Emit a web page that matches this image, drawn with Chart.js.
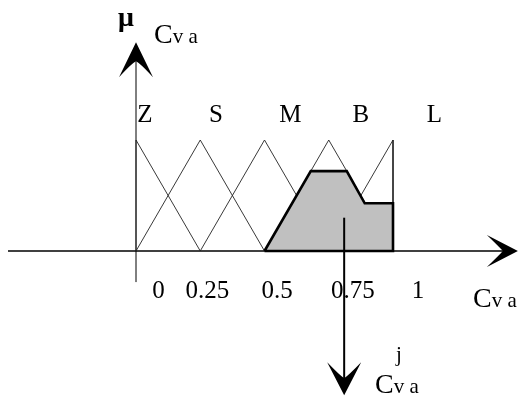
<!DOCTYPE html>
<html><head><meta charset="utf-8">
<script src="https://cdn.jsdelivr.net/npm/chart.js@4/dist/chart.umd.min.js"></script>
<style>html,body{margin:0;padding:0;background:#fff;overflow:hidden}canvas{display:block}</style>
</head><body>
<canvas id="c" width="521" height="401" style="width:521px;height:401px"></canvas>
<script>
// ---- data ----
const setNames = ['Z', 'S', 'M', 'B', 'L'];
const setPeaks = [0, 0.25, 0.5, 0.75, 1];
const setWidth = 0.25;
const tickLabels = ['0', '0.25', '0.5', '0.75', '1'];
const aggX = [0.5, 0.68, 0.82, 0.89, 1, 1];
const aggY = [0, 0.72, 0.72, 0.43, 0.43, 0];
const crispValue = 0.81;

// ---- layout (positions of annotations, in data units) ----
const setLabelX = [0.035, 0.311, 0.601, 0.875, 1.161];
const setLabelY = 1.162;
const tickLabelX = [0.0875, 0.278, 0.549, 0.844, 1.097];
const tickLabelY = -0.423;
const xAxisFrom = -0.498, xAxisTo = 1.486;
const yAxisFrom = -0.28, yAxisTo = 1.88;
const crispFrom = 0.30, crispTo = -1.30;

const FONT = '"Liberation Serif","Times New Roman",serif';

const triangles = setPeaks.map(p => [
  {x: Math.max(0, p - setWidth), y: 0},
  {x: p, y: 1},
  {x: Math.min(1, p + setWidth), y: 0}
]);

const aggPts = aggX.map((x, i) => ({x, y: aggY[i]}));
const datasets = [];
// filled area (monotonic in x)
datasets.push({
  data: aggPts, borderWidth: 0, borderColor: 'rgba(0,0,0,0)', backgroundColor: '#c0c0c0',
  fill: 'origin', pointRadius: 0, tension: 0, order: 1
});
// closed outline
datasets.push({
  data: aggPts.concat([aggPts[0]]), borderColor: '#000', borderWidth: 2.6,
  fill: false, pointRadius: 0, tension: 0, order: 0, borderJoinStyle: 'miter'
});
triangles.forEach(t => datasets.push({
  data: t, borderColor: '#222', borderWidth: 0.9, pointRadius: 0,
  fill: false, tension: 0, order: 2
}));

function arrow(ctx, tx, ty, dx, dy, len, hw, notch) {
  const px = -dy, py = dx;
  const bx = tx - dx * len, by = ty - dy * len;
  const nx = tx - dx * notch, ny = ty - dy * notch;
  ctx.beginPath();
  ctx.moveTo(tx, ty);
  ctx.lineTo(bx + px * hw, by + py * hw);
  ctx.quadraticCurveTo(tx - dx * (len * 0.6) + px * hw * 0.25, ty - dy * (len * 0.6) + py * hw * 0.25, nx, ny);
  ctx.quadraticCurveTo(tx - dx * (len * 0.6) - px * hw * 0.25, ty - dy * (len * 0.6) - py * hw * 0.25, bx - px * hw, by - py * hw);
  ctx.closePath();
  ctx.fillStyle = '#000';
  ctx.fill();
}

function cva(ctx, x, y) {
  ctx.textAlign = 'left';
  ctx.textBaseline = 'alphabetic';
  ctx.font = '28px ' + FONT;
  ctx.fillText('C', x, y);
  const w = ctx.measureText('C').width;
  ctx.font = '21px ' + FONT;
  ctx.fillText('v a', x + w, y);
}

const deco = {
  id: 'deco',
  beforeDatasetsDraw(chart) {
    const {ctx, scales: {x, y}} = chart;
    ctx.save();
    ctx.strokeStyle = '#000';
    ctx.lineWidth = 1.3;
    ctx.beginPath();
    ctx.moveTo(x.getPixelForValue(xAxisFrom), y.getPixelForValue(0));
    ctx.lineTo(x.getPixelForValue(xAxisTo) - 10, y.getPixelForValue(0));
    ctx.stroke();
    ctx.lineWidth = 1;
    ctx.beginPath();
    ctx.moveTo(x.getPixelForValue(0), y.getPixelForValue(yAxisFrom));
    ctx.lineTo(x.getPixelForValue(0), y.getPixelForValue(yAxisTo) + 10);
    ctx.stroke();
    ctx.restore();
  },
  afterDatasetsDraw(chart) {
    const {ctx, scales: {x, y}} = chart;
    ctx.save();
    const cx = x.getPixelForValue(crispValue);
    ctx.strokeStyle = '#000';
    ctx.lineWidth = 2;
    ctx.beginPath();
    ctx.moveTo(cx, y.getPixelForValue(crispFrom));
    ctx.lineTo(cx, y.getPixelForValue(crispTo) - 10);
    ctx.stroke();
    arrow(ctx, x.getPixelForValue(xAxisTo), y.getPixelForValue(0), 1, 0, 31, 16, 15);
    arrow(ctx, x.getPixelForValue(0), y.getPixelForValue(yAxisTo), 0, -1, 35, 17, 19);
    arrow(ctx, cx, y.getPixelForValue(crispTo), 0, 1, 33, 17, 17);
    ctx.fillStyle = '#000';
    ctx.textAlign = 'center';
    ctx.textBaseline = 'alphabetic';
    ctx.font = '25px ' + FONT;
    setNames.forEach((n, i) => ctx.fillText(n, x.getPixelForValue(setLabelX[i]), y.getPixelForValue(setLabelY)));
    tickLabels.forEach((t, i) => ctx.fillText(t, x.getPixelForValue(tickLabelX[i]), y.getPixelForValue(tickLabelY)));
    ctx.textAlign = 'left';
    ctx.font = 'bold 28px ' + FONT;
    ctx.fillText('μ', 118, 26);
    cva(ctx, 154, 43);
    cva(ctx, 473, 307);
    cva(ctx, 375, 393);
    ctx.font = '21px ' + FONT;
    ctx.textAlign = 'center';
    ctx.fillText('j', 399, 361);
    ctx.restore();
  }
};

new Chart(document.getElementById('c'), {
  type: 'line',
  data: {datasets},
  options: {
    responsive: false, animation: false, devicePixelRatio: 1,
    layout: {padding: 0},
    plugins: {legend: {display: false}, tooltip: {enabled: false}},
    scales: {
      x: {type: 'linear', display: false, min: -136 / 257, max: (521 - 136) / 257},
      y: {type: 'linear', display: false, min: -(401 - 251) / 111, max: 1 + 140 / 111}
    }
  },
  plugins: [deco]
});
</script>
</body></html>
